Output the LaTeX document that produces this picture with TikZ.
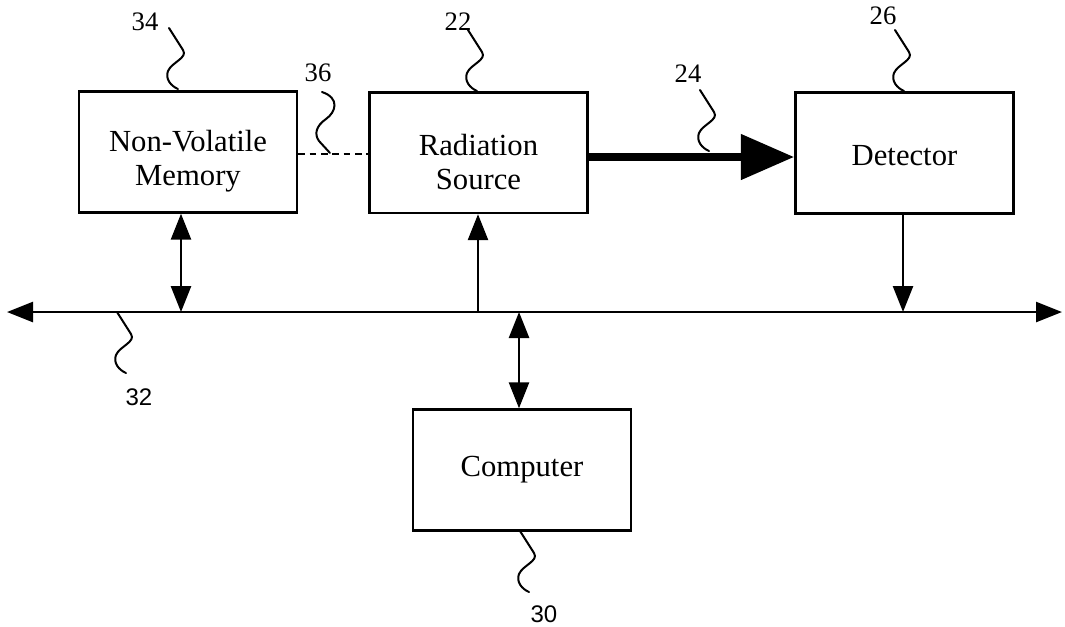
\documentclass[tikz,border=0pt]{standalone}
\usepackage{fontspec}
\setmainfont{Liberation Serif}
\setsansfont{Liberation Sans}
\usetikzlibrary{arrows.meta}
\begin{document}
\begin{tikzpicture}[x=0.75pt,y=-0.75pt,
  box/.style={draw,line width=2pt,minimum width=163.5pt,minimum height=90.5pt,inner sep=0pt},
  boxtext/.style={align=center,inner sep=0pt,font=\fontsize{23}{25.5}\selectfont},
  reflab/.style={font=\fontsize{20}{22}\selectfont,inner sep=0pt},
  reflabsf/.style={font=\sffamily\fontsize{18}{20}\selectfont,inner sep=0pt},
  lead/.style={line width=1.5pt,line cap=round},
  conn/.style={line width=1.9pt},
  onetip/.style={conn,-{Triangle[length=19.5pt,width=15pt]}},
  twotip/.style={conn,{Triangle[length=19.5pt,width=15pt]}-{Triangle[length=19.5pt,width=15pt]}},
  beam/.style={line width=6pt,-{Triangle[length=40pt,width=33pt]}},
  squig/.pic={\draw[lead] (0,0) -- (14,22) .. controls (19,30) and (3,34) .. (-1,43) .. controls (-4,51) and (2,58) .. (9,61);}
]
\useasboundingbox (0,0) rectangle (1065,626);

% boxes
\node[box] (nvm) at (188,152) {};
\node[box] (rad) at (478.5,152.5) {};
\node[box] (det) at (904.5,153) {};
\node[box] (comp) at (522,470) {};
\node[boxtext,yshift=-7pt] (tnvm) at (nvm.center) {Non-Volatile\\Memory};
\node[boxtext,yshift=-7pt] (trad) at (rad.center) {Radiation\\Source};
\node[boxtext,yshift=-2pt] (tdet) at (det.center) {Detector};
\node[boxtext,yshift=0pt] (tcomp) at (comp.center) {Computer};

% bus
\coordinate (busL) at (7,312);
\coordinate (busR) at (1062,312);
\draw[twotip] (busL) -- (busR);
\coordinate (bA) at (181,312);
\coordinate (bB) at (478,312);
\coordinate (bC) at (903,312);
\coordinate (bD) at (519,312);

% connectors
\draw[twotip] (nvm.south -| bA) -- (bA);
\draw[onetip] (bB) -- (rad.south -| bB);
\draw[onetip] (det.south -| bC) -- (bC);
\draw[twotip] (bD) -- (comp.north -| bD);

\coordinate (beamy) at (700,157);
\draw[beam] (rad.east |- beamy) -- (det.west |- beamy);

\coordinate (dashy) at (330,154);
\draw[conn,dash pattern=on 5pt off 3.5pt] (nvm.east |- dashy) -- (rad.west |- dashy);

% reference labels
\node[reflab] (l34) at (145,22) {34};
\node[reflab] (l22) at (458,22) {22};
\node[reflab] (l36) at (318,73) {36};
\node[reflab] (l24) at (688,74) {24};
\node[reflab] (l26) at (883,16) {26};
\node[reflabsf] (l32) at (139,397) {32};
\node[reflabsf] (l30) at (544,614) {30};

% leader squiggles
\pic at (169,28) {squig};
\pic at (468,30) {squig};
\pic at (700,90) {squig};
\pic at (895,30) {squig};
\pic at (117,312) {squig};
\pic at (520,531) {squig};
\draw[lead] (322,92) .. controls (340,98) and (336,112) .. (326,119) .. controls (316,126) and (314,134) .. (319,141) -- (330,153);
\end{tikzpicture}
\end{document}
